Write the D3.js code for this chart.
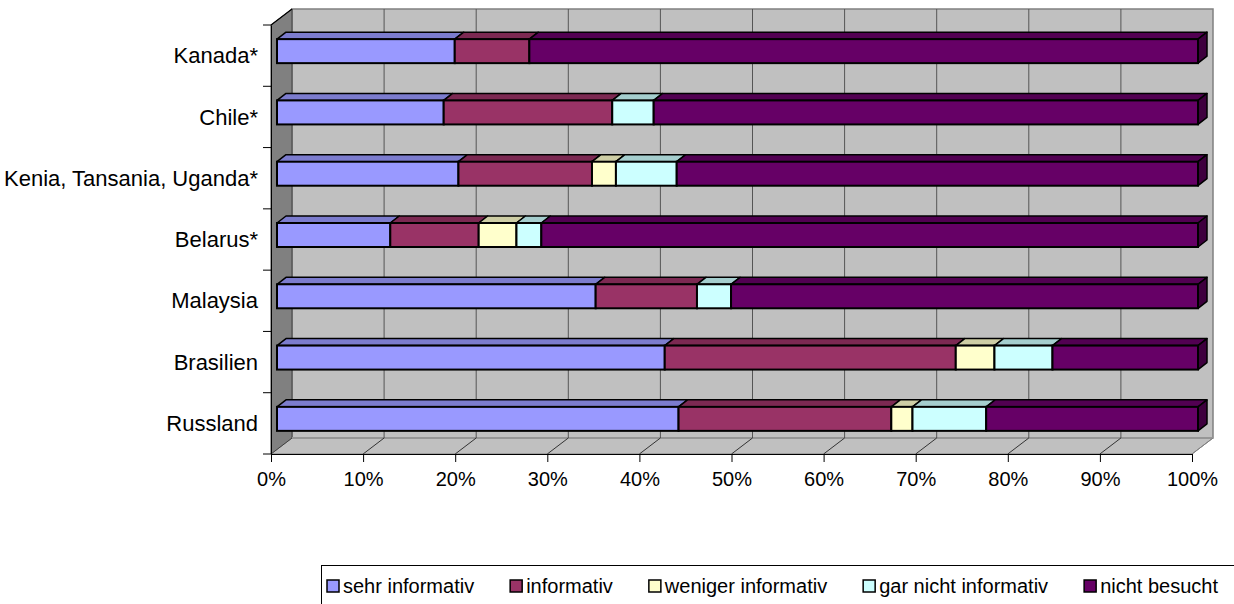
<!DOCTYPE html>
<html>
<head>
<meta charset="utf-8">
<script src="https://cdn.jsdelivr.net/npm/d3@7"></script>
<style>
  body { margin: 0; background: #fff; }
  svg text { font-family: "Liberation Sans", Arial, sans-serif; fill: #000; }
</style>
</head>
<body>
<figure id="chart" style="margin:0"></figure>
<script>
// data (percent of respondents)
const categories = ["Kanada*", "Chile*", "Kenia, Tansania, Uganda*", "Belarus*", "Malaysia", "Brasilien", "Russland"];
const seriesNames = ["sehr informativ", "informativ", "weniger informativ", "gar nicht informativ", "nicht besucht"];
const sehrInformativ = [19.3, 18.1, 19.7, 12.3, 34.6, 42.1, 43.6];
const informativ = [8.1, 18.3, 14.5, 9.6, 11.0, 31.6, 23.1];
const wenigerInformativ = [0, 0, 2.6, 4.1, 0, 4.2, 2.3];
const garNichtInformativ = [0, 4.5, 6.6, 2.7, 3.7, 6.3, 8.0];
const nichtBesucht = [72.6, 59.1, 56.6, 71.3, 50.7, 15.8, 23.0];
const xTicks = [0, 10, 20, 30, 40, 50, 60, 70, 80, 90, 100];

const colors = ["#9999ff", "#993366", "#ffffcc", "#ccffff", "#660066"];

const width = 1234, height = 604;

// front plane of the plot and the 3d offsets
const front = { left: 271, right: 1192, top: 25, bottom: 454 };
const depth = { dx: 21, dy: -16 };      // wall depth
const barFront = { dx: 6, dy: -4.5 };   // where bar front faces sit
const barDepth = { dx: 9, dy: -7 };     // thickness of the bars
const barHeight = 24;

const svg = d3.select("#chart").append("svg")
  .attr("width", width)
  .attr("height", height);

const xScale = d3.scaleLinear().domain([0, 100]).range([front.left, front.right]);
const yScale = d3.scaleBand().domain(categories).range([front.top, front.bottom]);

// build rows for the stack
const rows = categories.map((c, i) => ({
  cat: c,
  s0: sehrInformativ[i], s1: informativ[i], s2: wenigerInformativ[i],
  s3: garNichtInformativ[i], s4: nichtBesucht[i]
}));
const stacked = d3.stack().keys(["s0", "s1", "s2", "s3", "s4"])(rows);

// walls
const L = front.left, R = front.right, T = front.top, B = front.bottom;
const dx = depth.dx, dy = depth.dy;
const pts = p => p.map(q => q.join(",")).join(" ");

// back wall
svg.append("polygon")
  .attr("points", pts([[L + dx, T + dy], [R + dx, T + dy], [R + dx, B + dy], [L + dx, B + dy]]))
  .attr("fill", "#c0c0c0").attr("stroke", "#808080").attr("stroke-width", 1.5);
// floor
svg.append("polygon")
  .attr("points", pts([[L, B], [R, B], [R + dx, B + dy], [L + dx, B + dy]]))
  .attr("fill", "#c0c0c0").attr("stroke", "#808080").attr("stroke-width", 1);
// left wall
svg.append("polygon")
  .attr("points", pts([[L, T], [L + dx, T + dy], [L + dx, B + dy], [L, B]]))
  .attr("fill", "#808080").attr("stroke", "#404040").attr("stroke-width", 1);
svg.append("line")
  .attr("x1", L).attr("y1", T).attr("x2", L + dx).attr("y2", T + dy)
  .attr("stroke", "#000").attr("stroke-width", 1.2);

// back wall bottom shade
svg.append("line")
  .attr("x1", L + dx).attr("x2", R + dx).attr("y1", B + dy).attr("y2", B + dy)
  .attr("stroke", "#969696").attr("stroke-width", 2);

// gridlines on back wall and floor
const grid = svg.append("g");
xTicks.filter(t => t > 0 && t < 100).forEach(t => {
  grid.append("line")
    .attr("x1", xScale(t) + dx).attr("x2", xScale(t) + dx)
    .attr("y1", T + dy).attr("y2", B + dy)
    .attr("stroke", "#555").attr("stroke-width", 1);
});
xTicks.filter(t => t > 0).forEach(t => {
  grid.append("line")
    .attr("x1", xScale(t)).attr("y1", B)
    .attr("x2", xScale(t) + dx).attr("y2", B + dy)
    .attr("stroke", t === 100 ? "#808080" : "#333").attr("stroke-width", 1);
});

// bars
const bars = svg.append("g");
categories.forEach((c, i) => {
  const yc = yScale(c) + yScale.bandwidth() / 2 + barFront.dy;
  const yt = yc - barHeight / 2, yb = yc + barHeight / 2;
  const segs = stacked.map((s, k) => ({ k, x0: s[i][0], x1: s[i][1] })).filter(s => s.x1 - s.x0 > 0);
  segs.forEach((s, j) => {
    const xa = xScale(s.x0) + barFront.dx, xb = xScale(s.x1) + barFront.dx;
    const col = d3.color(colors[s.k]);
    // top face
    bars.append("polygon")
      .attr("points", pts([[xa, yt], [xb, yt], [xb + barDepth.dx, yt + barDepth.dy], [xa + barDepth.dx, yt + barDepth.dy]]))
      .attr("fill", col.darker(0.6)).attr("stroke", "#000").attr("stroke-width", 1.5)
      .attr("stroke-linejoin", "round");
    // right side face, only visible on the last segment
    if (j === segs.length - 1) {
      bars.append("polygon")
        .attr("points", pts([[xb, yt], [xb + barDepth.dx, yt + barDepth.dy], [xb + barDepth.dx, yb + barDepth.dy], [xb, yb]]))
        .attr("fill", col.darker(1.4)).attr("stroke", "#000").attr("stroke-width", 1.5)
        .attr("stroke-linejoin", "round");
    }
    // front face
    bars.append("rect")
      .attr("x", xa).attr("y", yt)
      .attr("width", xb - xa).attr("height", barHeight)
      .attr("fill", colors[s.k]).attr("stroke", "#000").attr("stroke-width", 2);
  });
});

// axes
const yAxis = d3.axisLeft(yScale).tickSize(0).tickPadding(13);
const yG = svg.append("g").attr("transform", `translate(${L},0)`).call(yAxis);
yG.select(".domain").attr("stroke", "#000");
yG.selectAll("text").attr("font-size", 22).attr("dy", "0.35em");
// category boundary ticks
[...categories.map(c => yScale(c)), B].forEach(y => {
  svg.append("line").attr("x1", L - 8).attr("x2", L).attr("y1", y).attr("y2", y)
    .attr("stroke", "#000").attr("stroke-width", 1);
});

const xAxis = d3.axisBottom(xScale).tickValues(xTicks).tickFormat(d => d + "%")
  .tickSize(8).tickSizeOuter(0).tickPadding(10);
const xG = svg.append("g").attr("transform", `translate(0,${B})`).call(xAxis);
xG.selectAll("text").attr("font-size", 20);

// legend
const legend = svg.append("g");
legend.append("rect")
  .attr("x", 321.5).attr("y", 565.5).attr("width", 950).attr("height", 60)
  .attr("fill", "#fff").attr("stroke", "#000").attr("stroke-width", 1);
let lx = 327;
seriesNames.forEach((name, k) => {
  legend.append("rect")
    .attr("x", lx).attr("y", 580).attr("width", 12).attr("height", 12)
    .attr("fill", colors[k]).attr("stroke", "#000").attr("stroke-width", 1.5);
  const t = legend.append("text")
    .attr("x", lx + 16).attr("y", 593)
    .attr("font-size", 20)
    .text(name);
  lx += 16 + t.node().getComputedTextLength() + 36;
});
</script>
</body>
</html>
